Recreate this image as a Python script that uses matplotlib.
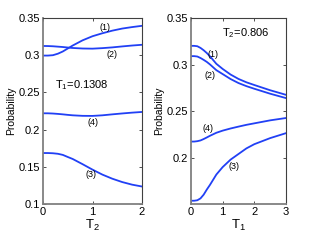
import numpy as np
import matplotlib.pyplot as plt

plt.rcParams['font.family'] = ['Liberation Sans', 'DejaVu Sans']
plt.rcParams['mathtext.fontset'] = 'custom'
plt.rcParams['mathtext.rm'] = 'Liberation Sans'
plt.rcParams['mathtext.it'] = 'Liberation Sans'

# Left panel: probability vs T2 (T1 = 0.1308)
t2 = [0, 0.1, 0.2, 0.3, 0.4, 0.5, 0.6, 0.8, 1.0, 1.2, 1.4, 1.6, 1.8, 2.0]
left_p1 = [0.2995, 0.2995, 0.3, 0.302, 0.305, 0.309, 0.313, 0.320, 0.3255, 0.3295, 0.333, 0.3358, 0.3378, 0.3395]
left_p2 = [0.3124, 0.3123, 0.312, 0.3115, 0.311, 0.3103, 0.3097, 0.309, 0.3088, 0.3095, 0.3105, 0.3118, 0.313, 0.314]
left_p4 = [0.2219, 0.2219, 0.2216, 0.2211, 0.2205, 0.2198, 0.2192, 0.2185, 0.2184, 0.2192, 0.2205, 0.2217, 0.2228, 0.2237]
left_p3 = [0.1685, 0.1685, 0.1682, 0.1675, 0.166, 0.1632, 0.1605, 0.1535, 0.1462, 0.1395, 0.134, 0.1295, 0.126, 0.1235]

# Right panel: probability vs T1 (T2 = 0.806)
t1 = [0, 0.1, 0.2, 0.3, 0.4, 0.5, 0.6, 0.8, 1.0, 1.25, 1.5, 1.75, 2.0, 2.5, 3.0]
right_p1 = [0.3202, 0.3202, 0.3198, 0.318, 0.3155, 0.3125, 0.309, 0.301, 0.2955, 0.2895, 0.2848, 0.2812, 0.2783, 0.2727, 0.2678]
right_p2 = [0.3092, 0.3092, 0.3088, 0.3072, 0.3052, 0.303, 0.3003, 0.2942, 0.29, 0.2847, 0.2804, 0.2771, 0.2743, 0.269, 0.2643]
right_p4 = [0.2178, 0.2178, 0.2182, 0.219, 0.2205, 0.2222, 0.224, 0.2272, 0.2295, 0.2318, 0.2338, 0.2357, 0.2373, 0.2405, 0.243]
right_p3 = [0.1545, 0.1545, 0.155, 0.157, 0.161, 0.1665, 0.1715, 0.1825, 0.1905, 0.1985, 0.2045, 0.2105, 0.215, 0.2215, 0.2268]

blue = '#2140f5'
lw = 1.3

fig = plt.figure(figsize=(3.32, 2.49), dpi=100)
ax1 = fig.add_axes([43 / 332, 1 - 204 / 249, 99 / 332, 186 / 249])
ax2 = fig.add_axes([191 / 332, 1 - 204 / 249, 95 / 332, 186 / 249])


def style(ax):
    ax.tick_params(direction='in', length=2, width=0.6, labelsize=8, pad=2,
                   top=True, right=True, colors='#333333', labelcolor='black')
    for side in ['left', 'bottom']:
        ax.spines[side].set_color('#808080')
        ax.spines[side].set_linewidth(1.3)
    for side in ['top', 'right']:
        ax.spines[side].set_color('#404040')
        ax.spines[side].set_linewidth(0.8)


# Left
for y in [left_p1, left_p2, left_p4, left_p3]:
    ax1.plot(t2, y, color=blue, lw=lw)
ax1.set_xlim(0, 2)
ax1.set_ylim(0.1, 0.35)
ax1.set_xticks([0, 1, 2])
ax1.set_yticks([0.1, 0.15, 0.2, 0.25, 0.3, 0.35])
ax1.set_yticklabels(['0.1', '0.15', '0.2', '0.25', '0.3', '0.35'])
ax1.text(1.25, 0.3366, '(1)', fontsize=6.5, ha='center', va='center')
ax1.text(1.39, 0.3016, '(2)', fontsize=6.5, ha='center', va='center')
ax1.text(1.0, 0.209, '(4)', fontsize=6.5, ha='center', va='center')
ax1.text(0.96, 0.140, '(3)', fontsize=6.5, ha='center', va='center')
ax1.text(0.24, 0.26, 'T$_1$=0.1308', fontsize=8, ha='left', va='center')
ax1.set_ylabel('Probability', fontsize=7.5, labelpad=2)
ax1.set_xlabel('T$_2$', fontsize=9.5, labelpad=1)
style(ax1)

# Right
for y in [right_p1, right_p2, right_p4, right_p3]:
    ax2.plot(t1, y, color=blue, lw=lw)
ax2.set_xlim(0, 3)
ax2.set_ylim(0.151, 0.35)
ax2.set_xticks([0, 1, 2, 3])
ax2.set_yticks([0.2, 0.25, 0.3, 0.35])
ax2.set_yticklabels(['0.2', '0.25', '0.3', '0.35'])
ax2.text(0.70, 0.311, '(1)', fontsize=6.5, ha='center', va='center')
ax2.text(0.61, 0.288, '(2)', fontsize=6.5, ha='center', va='center')
ax2.text(0.54, 0.232, '(4)', fontsize=6.5, ha='center', va='center')
ax2.text(1.37, 0.191, '(3)', fontsize=6.5, ha='center', va='center')
ax2.text(0.98, 0.334, 'T$_2$=0.806', fontsize=8, ha='left', va='center')
ax2.set_ylabel('Probability', fontsize=7.5, labelpad=2)
ax2.set_xlabel('T$_1$', fontsize=9.5, labelpad=1)
style(ax2)

fig.savefig('out.png', dpi=100)
